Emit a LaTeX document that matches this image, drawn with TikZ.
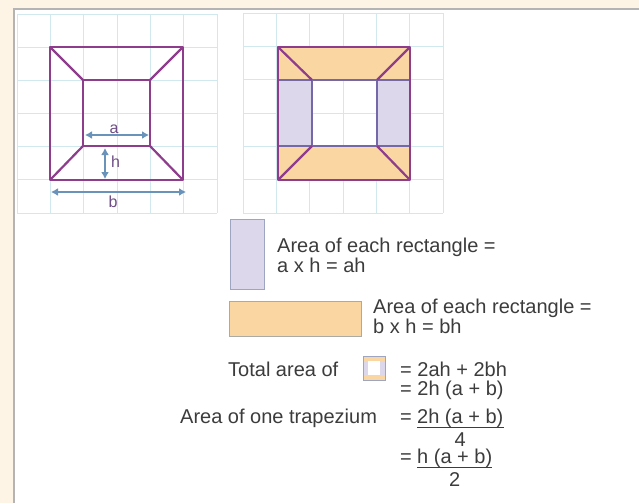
\documentclass[tikz,border=0pt]{standalone}
\usepackage{fontspec}
\setmainfont{Liberation Sans}
\usetikzlibrary{arrows.meta}
\definecolor{cream}{HTML}{FDF4E6}
\definecolor{bordergrey}{HTML}{B4B4B4}
\definecolor{gridc}{HTML}{D2E8EF}
\definecolor{purp}{HTML}{8E3C8C}
\definecolor{bluep}{HTML}{7468A8}
\definecolor{arrowc}{HTML}{6A93BC}
\definecolor{labelc}{HTML}{6E4E84}
\definecolor{orangef}{HTML}{F9D6A2}
\definecolor{lavf}{HTML}{DCD7EA}
\definecolor{lavd}{HTML}{9EA5C2}
\definecolor{orad}{HTML}{ABAAA4}
\definecolor{txt}{HTML}{3C3C3C}
\begin{document}
\begin{tikzpicture}[x=1pt,y=-1pt,
  gridline/.style={draw=gridc,line width=0.9pt},
  figline/.style={draw=purp,line width=2.2pt,line join=round},
  midline/.style={draw=bluep,line width=1.3pt},
  dimarrow/.style={draw=arrowc,line width=2.4pt,{Latex[length=7pt,width=8pt]}-{Latex[length=7pt,width=8pt]}},
  dimlabel/.style={text=labelc,font=\fontsize{16}{16}\selectfont,inner sep=0pt},
  body/.style={text=txt,font=\fontsize{20}{20}\selectfont,inner sep=0pt,anchor=base west},
  fracline/.style={draw=txt,line width=0.9pt}]
\useasboundingbox (0,0) rectangle (639,503);
\fill[cream] (0,0) rectangle (639,503);
\fill[white] (14,9) rectangle (639,503);
\draw[bordergrey,line width=1.3pt] (14,503) -- (14,9) -- (639,9);
% grids
\foreach \i in {0,...,6}{
  \draw[gridline] (17+\i*33.33,14) -- (17+\i*33.33,213);
  \draw[gridline] (17,14+\i*33.17) -- (217,14+\i*33.17);
  \draw[gridline] (243+\i*33.33,13) -- (243+\i*33.33,213);
  \draw[gridline] (243,13+\i*33.33) -- (443,13+\i*33.33);
}
% left figure
\coordinate (LA) at (50,47); \coordinate (LB) at (183,47);
\coordinate (LC) at (183,180); \coordinate (LD) at (50,180);
\coordinate (la) at (83,80); \coordinate (lb) at (150,80);
\coordinate (lc) at (150,146); \coordinate (ld) at (83,146);
\draw[figline] (LA) -- (LB) -- (LC) -- (LD) -- cycle;
\draw[figline] (la) -- (lb) -- (lc) -- (ld) -- cycle;
\draw[figline] (LA) -- (la) (LB) -- (lb) (LC) -- (lc) (LD) -- (ld);
\coordinate (aL) at (85,135); \coordinate (aR) at (149,135);
\draw[dimarrow] (aL) -- (aR);
\node[dimlabel,anchor=base] (alab) at (114,133) {a};
\coordinate (hT) at (105,148); \coordinate (hB) at (105,179);
\draw[dimarrow] (hT) -- (hB);
\node[dimlabel,anchor=base west] (hlab) at (111,167) {h};
\coordinate (bL) at (51,192); \coordinate (bR) at (186,192);
\draw[dimarrow] (bL) -- (bR);
\node[dimlabel,anchor=base] (blab) at (113,207) {b};
% right figure
\coordinate (RA) at (278,47); \coordinate (RB) at (410,47);
\coordinate (RC) at (410,180); \coordinate (RD) at (278,180);
\coordinate (ra) at (312,80); \coordinate (rb) at (377,80);
\coordinate (rc) at (377,146); \coordinate (rd) at (312,146);
\fill[orangef] (278,47) rectangle (410,80);
\fill[orangef] (278,146) rectangle (410,180);
\fill[lavf] (278,80) rectangle (312,146);
\fill[lavf] (377,80) rectangle (410,146);
\draw[midline] (278,80) -- (410,80) (278,146) -- (410,146);
\draw[midline] (ra) -- (rd) (rb) -- (rc);
\draw[figline] (RA) -- (RB) -- (RC) -- (RD) -- cycle;
\draw[figline] (RA) -- (ra) (RB) -- (rb) (RC) -- (rc) (RD) -- (rd);
% legend rectangles
\node[draw=lavd,fill=lavf,line width=1.2pt,minimum width=34pt,minimum height=70pt,inner sep=0pt,anchor=north west] (lavrect) at (230,219) {};
\node[body] (t1) at (277,252) {Area of each rectangle =};
\node[body] (t2) at (277,272) {a x h = ah};
\node[draw=orad,fill=orangef,line width=1.2pt,minimum width=132pt,minimum height=35pt,inner sep=0pt,anchor=north west] (orect) at (229,301) {};
\node[body] (t3) at (373,313) {Area of each rectangle =};
\node[body] (t4) at (373,333) {b x h = bh};
% totals
\node[body] (t5) at (228,376) {Total area of};
\fill[orangef] (363,356) rectangle (385,380);
\fill[lavf] (363,361) rectangle (385,375);
\fill[white] (368,361) rectangle (380,375);
\draw[lavd,line width=0.6pt] (363,356) rectangle (385,380);
\node[inner sep=0pt,minimum width=22pt,minimum height=24pt] (icon) at (374,368) {};
\node[body] (t6) at (400,376) {= 2ah + 2bh};
\node[body] (t7) at (400,395) {= 2h (a + b)};
\node[body] (t8) at (180,423) {Area of one trapezium};
\node[body] (t9) at (400,423) {=};
\node[body] (t10) at (417,423) {2h (a + b)};
\coordinate (u1) at (417,427.5);
\draw[fracline] (u1) -- (t10.east |- u1);
\node[body,anchor=base] (t11) at (t10.south |- 0,446) {4};
\node[body] (t12) at (400,463) {=};
\node[body] (t13) at (417,463) {h (a + b)};
\coordinate (u2) at (417,467.5);
\draw[fracline] (u2) -- (t13.east |- u2);
\node[body,anchor=base] (t14) at (t13.south |- 0,486) {2};
\end{tikzpicture}
\end{document}
